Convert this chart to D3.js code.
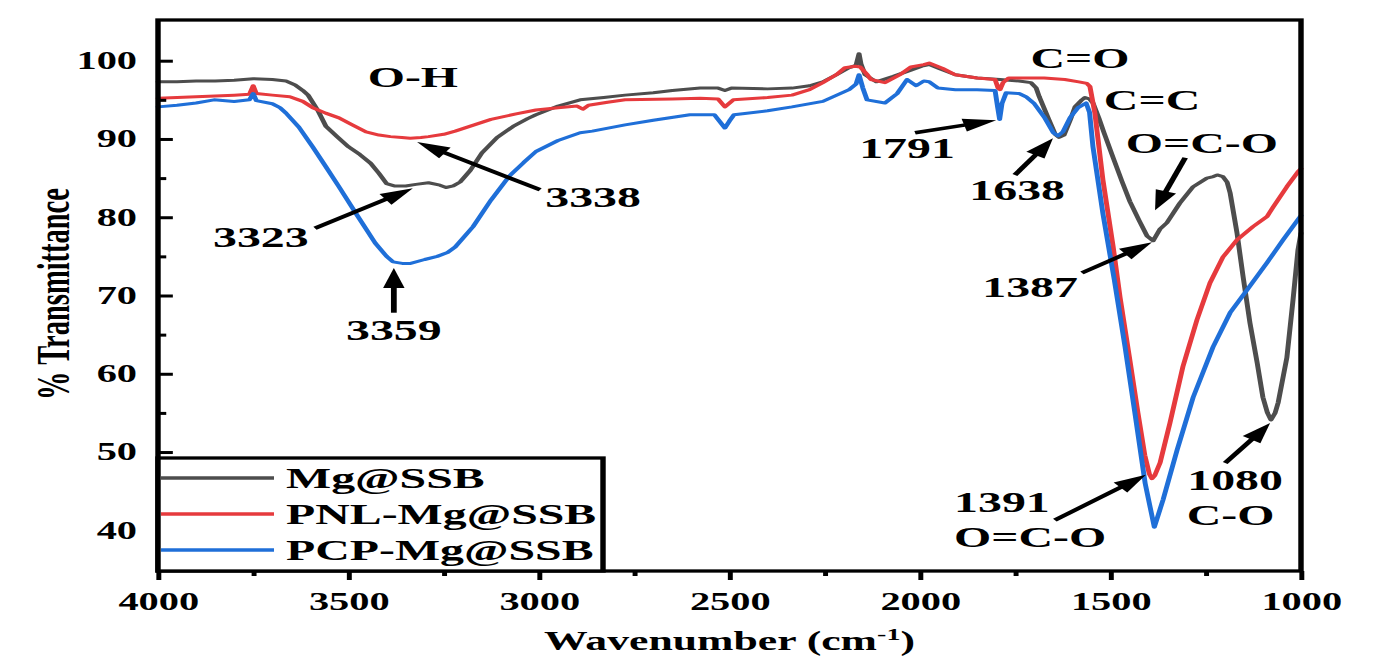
<!DOCTYPE html>
<html><head><meta charset="utf-8">
<script src="https://cdn.jsdelivr.net/npm/d3@7"></script>
<style>html,body{margin:0;padding:0;background:#fff;overflow:hidden}</style>
</head><body><div id="chart"></div>
<script>
// ---------- data ----------
const wavenumberTicks = [4000, 3500, 3000, 2500, 2000, 1500, 1000];
const wavenumberMinorTicks = [3750, 3250, 2750, 2250, 1750, 1250];
const transmittanceTicks = [40, 50, 60, 70, 80, 90, 100];
const transmittanceMinorTicks = [45, 55, 65, 75, 85, 95];
const seriesNames = ["Mg@SSB", "PNL-Mg@SSB", "PCP-Mg@SSB"];

const mgSSB = [[4000,97.3],[3950,97.3],[3900,97.4],[3850,97.4],[3800,97.5],[3750,97.7],[3700,97.6],[3664,97.4],[3640,96.9],[3620,96.2],[3606,95.6],[3580,93.6],[3559,91.6],[3530,90.3],[3500,89.0],[3470,88.0],[3442,86.9],[3420,85.6],[3400,84.3],[3380,84.0],[3350,84.0],[3323,84.2],[3290,84.4],[3260,84.1],[3244,83.8],[3225,84.0],[3207,84.5],[3180,86.0],[3150,88.2],[3110,90.2],[3068,91.6],[3030,92.6],[3008,93.1],[2950,94.2],[2892,95.0],[2830,95.3],[2774,95.6],[2700,95.9],[2650,96.2],[2577,96.5],[2530,96.5],[2512,96.2],[2495,96.5],[2400,96.4],[2336,96.5],[2290,96.8],[2255,97.3],[2220,98.2],[2186,99.1],[2168,99.4],[2160,100.9],[2155,99.6],[2144,98.2],[2115,97.3],[2070,98.0],[2024,98.8],[1995,99.3],[1976,99.5],[1950,99.0],[1907,98.2],[1850,97.8],[1790,97.6],[1740,97.4],[1709,97.2],[1695,96.5],[1687,95.4],[1662,92.5],[1645,90.6],[1635,90.2],[1622,90.5],[1605,92.5],[1593,94.1],[1575,95.0],[1567,95.3],[1555,95.1],[1546,94.6],[1530,92.6],[1517,90.8],[1493,87.6],[1470,84.6],[1449,82.0],[1425,79.6],[1404,77.6],[1388,77.0],[1370,78.5],[1352,79.3],[1318,81.8],[1283,83.9],[1247,85.0],[1230,85.2],[1220,85.4],[1205,85.2],[1194,84.5],[1186,83.1],[1168,78.0],[1152,72.4],[1134,66.5],[1115,61.4],[1100,57.0],[1088,55.0],[1079,54.1],[1068,55.0],[1060,56.3],[1037,62.1],[1021,69.4],[1008,75.8],[1000,78.0]];

const pnlMgSSB = [[4000,95.2],[3950,95.3],[3900,95.4],[3850,95.5],[3800,95.6],[3760,95.7],[3750,96.8],[3742,95.8],[3700,95.6],[3654,95.4],[3620,94.8],[3594,94.0],[3560,93.3],[3525,92.7],[3490,91.8],[3454,90.9],[3420,90.5],[3390,90.3],[3360,90.2],[3338,90.1],[3310,90.2],[3290,90.3],[3250,90.6],[3220,91.0],[3170,91.8],[3126,92.5],[3060,93.2],[3008,93.7],[2950,94.0],[2900,94.2],[2885,93.8],[2870,94.3],[2820,94.7],[2774,95.0],[2650,95.1],[2577,95.2],[2530,95.1],[2512,94.1],[2490,95.0],[2400,95.3],[2336,95.6],[2290,96.3],[2255,97.2],[2220,98.2],[2197,99.1],[2170,99.3],[2157,99.2],[2140,98.3],[2129,97.6],[2092,97.2],[2050,98.3],[2024,99.2],[1990,99.5],[1976,99.7],[1940,99.0],[1907,98.2],[1850,97.8],[1803,97.6],[1795,96.5],[1790,96.3],[1782,97.2],[1767,97.8],[1700,97.8],[1674,97.8],[1620,97.6],[1583,97.3],[1562,97.1],[1554,96.7],[1541,93.3],[1520,84.8],[1493,76.2],[1475,69.8],[1450,62.0],[1428,55.0],[1410,49.6],[1398,47.2],[1391,46.6],[1384,47.0],[1370,48.6],[1344,53.7],[1310,60.9],[1273,66.9],[1239,71.6],[1205,74.9],[1168,77.1],[1126,78.8],[1089,80.1],[1073,81.3],[1037,83.9],[1008,85.8],[1000,86.2]];

const pcpMgSSB = [[4000,94.1],[3950,94.3],[3900,94.6],[3853,95.0],[3800,94.8],[3760,95.0],[3750,95.8],[3742,94.9],[3700,94.5],[3680,94.0],[3664,93.3],[3630,91.5],[3594,89.0],[3560,86.5],[3525,83.9],[3478,80.3],[3430,76.7],[3400,75.0],[3383,74.3],[3359,74.1],[3337,74.1],[3300,74.6],[3267,75.0],[3240,75.5],[3220,76.2],[3173,78.8],[3126,82.2],[3079,85.2],[3040,87.0],[3008,88.4],[2950,89.8],[2892,90.8],[2860,91.0],[2774,91.8],[2700,92.4],[2604,93.1],[2540,93.1],[2512,91.4],[2500,92.3],[2488,93.1],[2400,93.6],[2336,94.1],[2255,94.8],[2186,96.3],[2168,97.0],[2160,98.2],[2150,96.5],[2139,95.0],[2092,94.6],[2060,95.8],[2034,97.6],[2010,96.8],[1990,97.4],[1976,97.3],[1953,96.5],[1907,96.3],[1850,96.3],[1803,96.2],[1796,94.0],[1791,92.5],[1785,94.5],[1774,95.9],[1740,95.8],[1722,95.4],[1700,94.5],[1674,92.8],[1650,90.8],[1638,90.4],[1625,90.9],[1605,92.8],[1585,94.0],[1564,94.6],[1555,93.4],[1546,89.0],[1520,80.5],[1490,72.0],[1462,63.5],[1436,55.0],[1409,46.0],[1385,40.4],[1362,43.9],[1325,50.3],[1283,57.0],[1231,63.4],[1186,67.8],[1142,70.7],[1089,74.2],[1047,77.1],[1008,79.7],[1000,80.2]];

// annotation labels: text, wavenumber, %T (baseline centre)
const annotationText = ["O-H","3338","3323","3359","1791","1638","C=O","C=C","O=C-O","1387","1391","O=C-O","1080","C-O"];
const annotationW    = [3331, 2858, 3730, 3381, 2034, 1745, 1580, 1391, 1260, 1711, 1785, 1711, 1173, 1185];
const annotationV    = [96.6, 81.3, 76.2, 64.3, 87.6, 82.2, 99.1, 93.7, 88.2, 69.8, 42.3, 37.9, 45.2, 40.7];
// arrows: tail (w,v) -> head (w,v)
const arrowTailW = [2997, 3588, 3381, 2013, 1751, 1304, 1575, 1646, 1199];
const arrowTailV = [83.5, 78.6, 67.8, 90.8, 85.4, 87.6, 72.9, 41.3, 48.6];
const arrowHeadW = [3320, 3331, 3381, 1800, 1651, 1383, 1391, 1407, 1081];
const arrowHeadV = [89.6, 83.7, 73.5, 92.4, 90.1, 80.9, 76.8, 47.1, 53.7];

// ---------- drawing ----------
const S = 1.65, W = 1384, H = 664, VW = W / S;
const FONT = "'Liberation Serif','Times New Roman',serif";
const colors = ["#4d4d4d", "#e63a3d", "#1f6fd8"];

const svg = d3.select("#chart").append("svg")
  .attr("width", W).attr("height", H)
  .attr("viewBox", `0 0 ${VW} ${H}`)
  .attr("preserveAspectRatio", "none");

const x = d3.scaleLinear().domain([4000, 1000]).range([158 / S, 1301 / S]);
const y = d3.scaleLinear().domain([34.8, 105.2]).range([571, 20]);

// curves
const line = d3.line().x(d => x(d[0])).y(d => y(d[1]));
[mgSSB, pnlMgSSB, pcpMgSSB].forEach((s, i) => {
  svg.append("path").datum(s).attr("d", line)
    .attr("fill", "none").attr("stroke", colors[i])
    .attr("stroke-width", 3).attr("stroke-linejoin", "round").attr("stroke-linecap", "round");
});

// axes
svg.append("g").attr("transform", `translate(0,${y.range()[0]})`)
  .call(d3.axisBottom(x).tickValues(wavenumberTicks).tickSize(9).tickPadding(12.6).tickFormat(d3.format("d")));
svg.append("g").attr("transform", `translate(0,${y.range()[0]})`)
  .call(d3.axisBottom(x).tickValues(wavenumberMinorTicks).tickSize(5).tickFormat(""));
svg.append("g").attr("transform", `translate(${x.range()[0]},0)`)
  .call(d3.axisLeft(y).tickValues(transmittanceTicks).tickSize(-9).tickPadding(12.7));
svg.append("g").attr("transform", `translate(${x.range()[0]},0)`)
  .call(d3.axisLeft(y).tickValues(transmittanceMinorTicks).tickSize(-5).tickFormat(""));
svg.selectAll(".domain").remove();
svg.selectAll(".tick line").attr("stroke", "#000").attr("stroke-width", 3);
svg.selectAll(".tick text").attr("fill", "#000")
  .style("font-family", FONT).style("font-weight", "bold").style("font-size", "24.5px");

// frame
svg.append("rect").attr("x", x.range()[0]).attr("y", y.range()[1])
  .attr("width", x.range()[1] - x.range()[0]).attr("height", y.range()[0] - y.range()[1])
  .attr("fill", "none").attr("stroke", "#000").attr("stroke-width", 3.3);

// axis titles
const xt = svg.append("text").attr("x", (x.range()[0] + x.range()[1]) / 2).attr("y", 650)
  .attr("text-anchor", "middle").style("font-family", FONT).style("font-weight", "bold").style("font-size", "26.5px");
xt.append("tspan").text("Wavenumber (cm");
xt.append("tspan").attr("dy", -10).style("font-size", "17px").text("-1");
xt.append("tspan").attr("dy", 10).text(")");

svg.append("text").attr("transform", `translate(${69 / S},294) rotate(-90)`)
  .attr("text-anchor", "middle").style("font-family", FONT).style("font-weight", "bold").style("font-size", "28.5px")
  .text("% Transmittance");

// legend
const lg = svg.append("g");
lg.append("rect").attr("x", x.range()[0]).attr("y", 458).attr("width", (603 - 158) / S).attr("height", y.range()[0] - 458)
  .attr("fill", "#fff").attr("stroke", "#000").attr("stroke-width", 3.3);
seriesNames.forEach((n, i) => {
  const yy = 478 + i * 36;
  lg.append("line").attr("x1", 161 / S).attr("x2", 274 / S).attr("y1", yy).attr("y2", yy)
    .attr("stroke", colors[i]).attr("stroke-width", 3.5);
  lg.append("text").attr("x", 286 / S).attr("y", yy + 10).text(n)
    .style("font-family", FONT).style("font-weight", "bold").style("font-size", "29px");
});

// annotations
annotationText.forEach((t, i) => {
  svg.append("text").attr("x", x(annotationW[i])).attr("y", y(annotationV[i]))
    .attr("text-anchor", "middle").text(t)
    .style("font-family", FONT).style("font-weight", "bold").style("font-size", "29px");
});

const headLen = 20, headHalf = 6.5;
arrowTailW.forEach((_, i) => {
  const x1 = x(arrowTailW[i]), y1 = y(arrowTailV[i]), x2 = x(arrowHeadW[i]), y2 = y(arrowHeadV[i]);
  const dx = x2 - x1, dy = y2 - y1, L = Math.hypot(dx, dy), ux = dx / L, uy = dy / L;
  const bx = x2 - ux * headLen, by = y2 - uy * headLen;
  svg.append("line").attr("x1", x1).attr("y1", y1).attr("x2", bx + ux * 2).attr("y2", by + uy * 2)
    .attr("stroke", "#000").attr("stroke-width", 3.5);
  svg.append("polygon")
    .attr("points", [[x2, y2], [bx - uy * headHalf, by + ux * headHalf], [bx + uy * headHalf, by - ux * headHalf]].map(p => p.join(",")).join(" "))
    .attr("fill", "#000");
});
</script></body></html>
